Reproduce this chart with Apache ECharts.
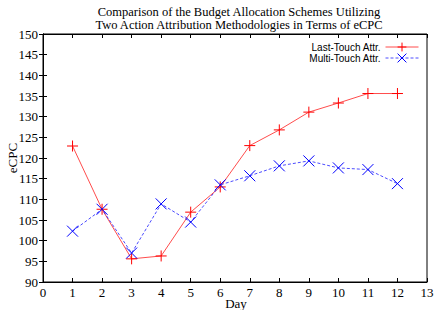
<!DOCTYPE html>
<html><head><meta charset="utf-8">
<script src="https://cdn.jsdelivr.net/npm/echarts@6/dist/echarts.min.js"></script>
<style>html,body{margin:0;padding:0;background:#fff}#c{width:443px;height:310px}</style>
</head><body><div id="c"></div>
<script>
const days = [1,2,3,4,5,6,7,8,9,10,11,12];
const lastTouch = [122.9,107.6,95.6,96.3,106.9,113.0,123.0,126.8,131.1,133.3,135.6,135.6];
const multiTouch = [102.3,107.6,97.0,108.9,104.5,113.5,115.7,118.1,119.3,117.6,117.2,113.8];
const xTicks = [0,13,1];
const yTicks = [90,150,5];

const chart = echarts.init(document.getElementById('c'), null, {renderer:'svg'});
const serif = 'Liberation Serif';
const sans = 'Liberation Sans';
const plus = 'path://M0,5L10,5M5,0L5,10';
const cross = 'path://M0,0L10,10M10,0L0,10';
function pairs(v){ return days.map((d,i)=>[d,v[i]]); }
const tick = {show:true, inside:true, length:4, lineStyle:{color:'#000', width:1}};
chart.setOption({
  animation:false,
  title:{text:'Comparison of the Budget Allocation Schemes Utilizing\nTwo Action Attribution Methodologies in Terms of eCPC',
    left:234, textAlign:'center', top:0,
    textStyle:{fontFamily:serif, fontSize:12.5, fontWeight:'normal', color:'#000', lineHeight:13}},
  legend:{orient:'vertical', right:19, top:37, align:'right', itemWidth:33, itemHeight:11, itemGap:1,
    textStyle:{fontFamily:sans, fontSize:10, color:'#000'},
    itemStyle:{borderWidth:1}, lineStyle:{width:1}, selectedMode:false,
    data:['Last-Touch Attr.','Multi-Touch Attr.']},
  graphic:[
    {type:'text', x:236, y:303, silent:true, style:{text:'Day', font:'13px "Liberation Serif"', fill:'#000', textAlign:'center', textVerticalAlign:'middle'}},
    {type:'text', x:12, y:158, silent:true, rotation:Math.PI/2, style:{text:'eCPC', font:'13px "Liberation Serif"', fill:'#000', textAlign:'center', textVerticalAlign:'middle'}}
  ],
  grid:{left:43, right:16, top:34, bottom:28, show:true, borderColor:'#000', borderWidth:1, outerBoundsMode:'none', containLabel:false},
  xAxis:[{type:'value', min:xTicks[0], max:xTicks[1], interval:xTicks[2],
    axisLine:{show:true, lineStyle:{color:'#000'}}, axisTick:tick, splitLine:{show:false},
    axisLabel:{fontFamily:serif, fontSize:13, color:'#000', margin:4}},
   {type:'value', position:'top', min:xTicks[0], max:xTicks[1], interval:xTicks[2],
    axisLine:{show:true, lineStyle:{color:'#000'}}, axisTick:tick, splitLine:{show:false}, axisLabel:{show:false}}],
  yAxis:[{type:'value', min:yTicks[0], max:yTicks[1], interval:yTicks[2],
    axisLine:{show:true, lineStyle:{color:'#000'}}, axisTick:tick, splitLine:{show:false},
    axisLabel:{fontFamily:serif, fontSize:13, color:'#000', margin:5}},
   {type:'value', position:'right', min:yTicks[0], max:yTicks[1], interval:yTicks[2],
    axisLine:{show:true, lineStyle:{color:'#000'}}, axisTick:tick, splitLine:{show:false}, axisLabel:{show:false}}],
  series:[
    {name:'Last-Touch Attr.', type:'line', silent:true, emphasis:{disabled:true}, data:pairs(lastTouch), symbol:plus, symbolSize:11, showAllSymbol:true,
      lineStyle:{color:'#ff0000', width:1, opacity:0.7}, itemStyle:{color:'#ff0000', borderColor:'#ff0000', borderWidth:1}},
    {name:'Multi-Touch Attr.', type:'line', silent:true, emphasis:{disabled:true}, data:pairs(multiTouch), symbol:cross, symbolSize:11, showAllSymbol:true,
      lineStyle:{color:'#0000ff', width:1, type:[3,2], opacity:0.7}, itemStyle:{color:'#0000ff', borderColor:'#0000ff', borderWidth:1}}
  ]
});
</script></body></html>
